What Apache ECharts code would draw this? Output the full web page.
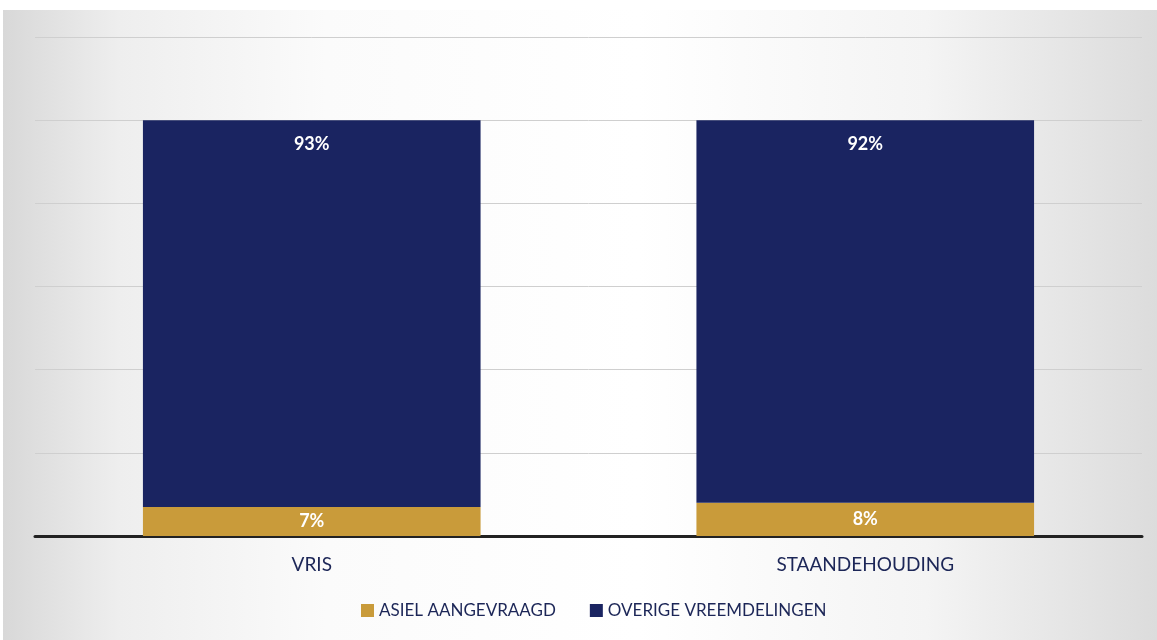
<!DOCTYPE html>
<html>
<head>
<meta charset="utf-8">
<script src="https://cdn.jsdelivr.net/npm/echarts@6/dist/echarts.min.js"></script>
<style>
  html, body { margin: 0; padding: 0; background: #fff; }
  #wrap {
    position: absolute; left: 3px; top: 10px; width: 1154px; height: 630px;
    background: linear-gradient(90deg, #d8d8d8 0%, #eeeeee 10%, #fbfbfb 28%, #ffffff 55%, #f4f4f4 80%, #dcdcdc 100%);
  }
  #chart { width: 1157px; height: 640px; position: absolute; left: 0; top: 0; }
</style>
</head>
<body>
<div id="wrap"></div>
<div id="chart"></div>
<script>
const categories = ['VRIS', 'STAANDEHOUDING']
const asielValues = [7, 8]
const overigeValues = [93, 92]
const seriesNames = ['ASIEL AANGEVRAAGD', 'OVERIGE VREEMDELINGEN']

const chart = echarts.init(document.getElementById('chart'))

const labelStyle = {
  show: true,
  color: '#fff',
  fontWeight: 'bold',
  fontSize: 18,
  fontFamily: 'Lato, sans-serif',
  formatter: (p) => p.value + '%',
}

chart.setOption({
  animation: false,
  backgroundColor: 'transparent',
  textStyle: { fontFamily: 'Lato, sans-serif' },
  grid: { left: 35, right: 15, top: 37, bottom: 104 },
  legend: {
    bottom: 16,
    left: 356,
    itemWidth: 13,
    itemHeight: 13,
    itemGap: 34,
    icon: 'rect',
    textStyle: { color: '#1c2657', fontSize: 17, fontFamily: 'Lato, sans-serif' },
    data: seriesNames,
  },
  xAxis: {
    type: 'category',
    data: categories,
    axisLine: { lineStyle: { color: '#222', width: 3 } },
    axisTick: { show: false },
    axisLabel: { color: '#1c2657', fontSize: 19, margin: 19 },
  },
  yAxis: {
    type: 'value',
    min: 0,
    max: 120,
    interval: 20,
    axisLabel: { show: false },
    axisLine: { show: false },
    axisTick: { show: false },
    splitLine: { lineStyle: { color: '#cfcfcf', width: 1 } },
  },
  series: [
    {
      name: seriesNames[0],
      type: 'bar',
      stack: 'total',
      barWidth: '61%',
      itemStyle: { color: '#c99b3a' },
      label: { ...labelStyle, position: 'inside' },
      data: asielValues,
    },
    {
      name: seriesNames[1],
      type: 'bar',
      stack: 'total',
      barWidth: '61%',
      itemStyle: { color: '#1a2461' },
      label: { ...labelStyle, position: 'insideTop', distance: 15 },
      data: overigeValues,
    },
  ],
})
</script>
</body>
</html>
